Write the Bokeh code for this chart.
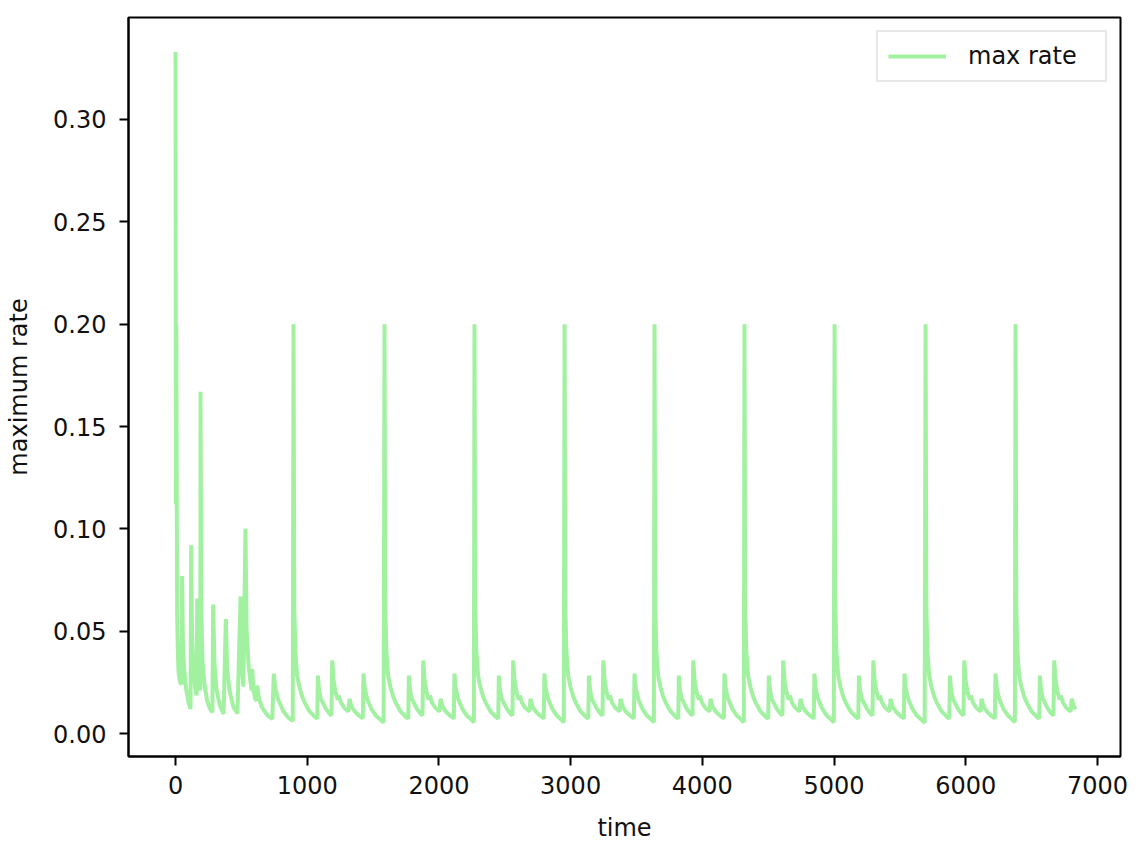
from bokeh.plotting import figure
from bokeh.models import Range1d, FixedTicker, NumeralTickFormatter
from bokeh.embed import file_html
from bokeh.resources import INLINE

# ---- data ----
early_time = [0, 3, 6, 12, 17, 23, 35, 46, 50, 56, 65, 80, 100, 114, 119, 125, 135, 150,
              160, 165, 172, 182, 188, 190, 196, 205, 220, 240, 262, 280, 286, 295, 310,
              335, 365, 382, 392, 410, 440, 470, 494, 502, 515, 531, 540, 555, 570, 578,
              582, 592, 605, 615, 620, 635, 655, 675, 700, 735, 746, 758, 780, 818, 856, 890]
early_rate = [0.333, 0.112, 0.200, 0.060, 0.042, 0.030, 0.025, 0.024, 0.077, 0.045, 0.032,
              0.022, 0.015, 0.012, 0.092, 0.050, 0.032, 0.022, 0.0186, 0.066, 0.035, 0.024,
              0.021, 0.167, 0.060, 0.035, 0.024, 0.016, 0.012, 0.0104, 0.063, 0.035, 0.022,
              0.014, 0.0096, 0.056, 0.032, 0.021, 0.013, 0.0098, 0.067, 0.035, 0.023, 0.100,
              0.050, 0.033, 0.025, 0.021, 0.0316, 0.021, 0.017, 0.016, 0.0234, 0.017, 0.013,
              0.011, 0.0088, 0.0072, 0.0292, 0.022, 0.0165, 0.011, 0.0078, 0.0062]

cycle1_time = [896, 902, 910, 924, 942, 962, 982, 1016, 1051, 1076, 1081, 1090, 1104, 1121,
               1141, 1161, 1184, 1190, 1200, 1216, 1232, 1240, 1256, 1281, 1314, 1321, 1336,
               1361, 1391, 1422, 1427, 1437, 1456, 1486, 1521, 1556, 1580]
cycle1_rate = [0.200, 0.062, 0.040, 0.028, 0.0225, 0.018, 0.015, 0.011, 0.0086, 0.0072,
               0.0283, 0.021, 0.017, 0.0148, 0.0122, 0.0104, 0.0088, 0.0357, 0.026, 0.020,
               0.0165, 0.0185, 0.0152, 0.0126, 0.0108, 0.017, 0.0133, 0.0108, 0.0089, 0.0074,
               0.0293, 0.022, 0.0168, 0.0122, 0.0088, 0.0068, 0.0054]

cycle2_time = [1587, 1593, 1601, 1615, 1633, 1653, 1673, 1707, 1742, 1767, 1772, 1781, 1795,
               1812, 1832, 1852, 1875, 1881, 1891, 1907, 1923, 1931, 1947, 1972, 2005, 2012,
               2027, 2052, 2082, 2113, 2118, 2128, 2147, 2177, 2212, 2247, 2265]
cycle2_rate = [0.200, 0.062, 0.040, 0.028, 0.0225, 0.018, 0.015, 0.011, 0.0086, 0.0072,
               0.0283, 0.021, 0.017, 0.0148, 0.0122, 0.0104, 0.0088, 0.0357, 0.026, 0.020,
               0.0165, 0.0185, 0.0152, 0.0126, 0.0108, 0.017, 0.0133, 0.0108, 0.0089, 0.0074,
               0.0293, 0.022, 0.0168, 0.0122, 0.0088, 0.0068, 0.0055]

cycle3_time = [2270, 2276, 2284, 2298, 2316, 2336, 2356, 2390, 2425, 2450, 2455, 2464, 2478,
               2495, 2515, 2535, 2558, 2564, 2574, 2590, 2606, 2614, 2630, 2655, 2688, 2695,
               2710, 2735, 2765, 2796, 2801, 2811, 2830, 2860, 2895, 2930, 2948]
cycle3_rate = [0.200, 0.062, 0.040, 0.028, 0.0225, 0.018, 0.015, 0.011, 0.0086, 0.0072,
               0.0283, 0.021, 0.017, 0.0148, 0.0122, 0.0104, 0.0088, 0.0357, 0.026, 0.020,
               0.0165, 0.0185, 0.0152, 0.0126, 0.0108, 0.017, 0.0133, 0.0108, 0.0089, 0.0074,
               0.0293, 0.022, 0.0168, 0.0122, 0.0088, 0.0068, 0.0055]

cycle4_time = [2954, 2960, 2968, 2982, 3000, 3020, 3040, 3074, 3109, 3134, 3139, 3148, 3162,
               3179, 3199, 3219, 3242, 3248, 3258, 3274, 3290, 3298, 3314, 3339, 3372, 3379,
               3394, 3419, 3449, 3480, 3485, 3495, 3514, 3544, 3579, 3614, 3632]
cycle4_rate = [0.200, 0.062, 0.040, 0.028, 0.0225, 0.018, 0.015, 0.011, 0.0086, 0.0072,
               0.0283, 0.021, 0.017, 0.0148, 0.0122, 0.0104, 0.0088, 0.0357, 0.026, 0.020,
               0.0165, 0.0185, 0.0152, 0.0126, 0.0108, 0.017, 0.0133, 0.0108, 0.0089, 0.0074,
               0.0293, 0.022, 0.0168, 0.0122, 0.0088, 0.0068, 0.0055]

cycle5_time = [3637, 3643, 3651, 3665, 3683, 3703, 3723, 3757, 3792, 3817, 3822, 3831, 3845,
               3862, 3882, 3902, 3925, 3931, 3941, 3957, 3973, 3981, 3997, 4022, 4055, 4062,
               4077, 4102, 4132, 4163, 4168, 4178, 4197, 4227, 4262, 4297, 4315]
cycle5_rate = [0.200, 0.062, 0.040, 0.028, 0.0225, 0.018, 0.015, 0.011, 0.0086, 0.0072,
               0.0283, 0.021, 0.017, 0.0148, 0.0122, 0.0104, 0.0088, 0.0357, 0.026, 0.020,
               0.0165, 0.0185, 0.0152, 0.0126, 0.0108, 0.017, 0.0133, 0.0108, 0.0089, 0.0074,
               0.0293, 0.022, 0.0168, 0.0122, 0.0088, 0.0068, 0.0055]

cycle6_time = [4320, 4326, 4334, 4348, 4366, 4386, 4406, 4440, 4475, 4500, 4505, 4514, 4528,
               4545, 4565, 4585, 4608, 4614, 4624, 4640, 4656, 4664, 4680, 4705, 4738, 4745,
               4760, 4785, 4815, 4846, 4851, 4861, 4880, 4910, 4945, 4980, 4998]
cycle6_rate = [0.200, 0.062, 0.040, 0.028, 0.0225, 0.018, 0.015, 0.011, 0.0086, 0.0072,
               0.0283, 0.021, 0.017, 0.0148, 0.0122, 0.0104, 0.0088, 0.0357, 0.026, 0.020,
               0.0165, 0.0185, 0.0152, 0.0126, 0.0108, 0.017, 0.0133, 0.0108, 0.0089, 0.0074,
               0.0293, 0.022, 0.0168, 0.0122, 0.0088, 0.0068, 0.0055]

cycle7_time = [5004, 5010, 5018, 5032, 5050, 5070, 5090, 5124, 5159, 5184, 5189, 5198, 5212,
               5229, 5249, 5269, 5292, 5298, 5308, 5324, 5340, 5348, 5364, 5389, 5422, 5429,
               5444, 5469, 5499, 5530, 5535, 5545, 5564, 5594, 5629, 5664, 5688]
cycle7_rate = [0.200, 0.062, 0.040, 0.028, 0.0225, 0.018, 0.015, 0.011, 0.0086, 0.0072,
               0.0283, 0.021, 0.017, 0.0148, 0.0122, 0.0104, 0.0088, 0.0357, 0.026, 0.020,
               0.0165, 0.0185, 0.0152, 0.0126, 0.0108, 0.017, 0.0133, 0.0108, 0.0089, 0.0074,
               0.0293, 0.022, 0.0168, 0.0122, 0.0088, 0.0068, 0.0053]

cycle8_time = [5695, 5701, 5709, 5723, 5741, 5761, 5781, 5815, 5850, 5875, 5880, 5889, 5903,
               5920, 5940, 5960, 5983, 5989, 5999, 6015, 6031, 6039, 6055, 6080, 6113, 6120,
               6135, 6160, 6190, 6221, 6226, 6236, 6255, 6285, 6320, 6355, 6373]
cycle8_rate = [0.200, 0.062, 0.040, 0.028, 0.0225, 0.018, 0.015, 0.011, 0.0086, 0.0072,
               0.0283, 0.021, 0.017, 0.0148, 0.0122, 0.0104, 0.0088, 0.0357, 0.026, 0.020,
               0.0165, 0.0185, 0.0152, 0.0126, 0.0108, 0.017, 0.0133, 0.0108, 0.0089, 0.0074,
               0.0293, 0.022, 0.0168, 0.0122, 0.0088, 0.0068, 0.0055]

cycle9_time = [6378, 6384, 6392, 6406, 6424, 6444, 6464, 6498, 6533, 6558, 6563, 6572, 6586,
               6603, 6623, 6643, 6666, 6672, 6682, 6698, 6714, 6722, 6738, 6763, 6796, 6805,
               6820, 6835]
cycle9_rate = [0.200, 0.062, 0.040, 0.028, 0.0225, 0.018, 0.015, 0.011, 0.0086, 0.0072,
               0.0283, 0.021, 0.017, 0.0148, 0.0122, 0.0104, 0.0088, 0.0357, 0.026, 0.020,
               0.0165, 0.0185, 0.0152, 0.0126, 0.0108, 0.017, 0.0133, 0.0118]

x_ticks = [0, 1000, 2000, 3000, 4000, 5000, 6000, 7000]
y_ticks = [0.00, 0.05, 0.10, 0.15, 0.20, 0.25, 0.30]

time = (early_time + cycle1_time + cycle2_time + cycle3_time + cycle4_time + cycle5_time
        + cycle6_time + cycle7_time + cycle8_time + cycle9_time)
max_rate = (early_rate + cycle1_rate + cycle2_rate + cycle3_rate + cycle4_rate + cycle5_rate
            + cycle6_rate + cycle7_rate + cycle8_rate + cycle9_rate)

FONT = "DejaVu Sans"
FS = "24px"

p = figure(width=1136, height=848, output_backend="svg", toolbar_location=None,
           x_range=Range1d(-357, 7175), y_range=Range1d(-0.0112, 0.3498),
           min_border_left=128, min_border_right=16, min_border_top=17, min_border_bottom=92)

p.line(time, max_rate, line_color="#90EE90", line_alpha=0.85, line_width=4,
       legend_label="max rate")

p.xgrid.visible = False
p.ygrid.visible = False
p.background_fill_color = "white"
p.border_fill_color = "white"
p.outline_line_color = "black"
p.outline_line_width = 2

for ax in (p.xaxis[0], p.yaxis[0]):
    ax.axis_line_color = "black"
    ax.axis_line_width = 2
    ax.major_tick_line_color = "black"
    ax.major_tick_line_width = 2
    ax.major_tick_out = 9
    ax.major_tick_in = 0
    ax.minor_tick_line_color = None
    ax.major_label_text_font = FONT
    ax.major_label_text_font_size = FS
    ax.major_label_text_color = "#111111"
    ax.axis_label_text_font = FONT
    ax.axis_label_text_font_size = FS
    ax.axis_label_text_font_style = "normal"
    ax.axis_label_text_color = "#111111"

p.xaxis.major_label_standoff = 10
p.yaxis.major_label_standoff = 13
p.xaxis.ticker = FixedTicker(ticks=x_ticks)
p.yaxis.ticker = FixedTicker(ticks=y_ticks)
p.yaxis.formatter = NumeralTickFormatter(format="0.00")
p.xaxis.axis_label = "time"
p.yaxis.axis_label = "maximum rate"
p.xaxis.axis_label_standoff = 17
p.yaxis.axis_label_standoff = 17

lg = p.legend[0]
lg.location = "top_right"
lg.margin = 13
lg.padding = 10
lg.glyph_width = 58
lg.glyph_height = 28
lg.label_height = 28
lg.label_width = 127
lg.label_standoff = 22
lg.label_text_font = FONT
lg.label_text_font_size = FS
lg.label_text_color = "#111111"
lg.border_line_color = "#d0d0d0"
lg.border_line_width = 2
lg.background_fill_color = "white"
lg.background_fill_alpha = 0.8

open("out.html", "w").write(file_html(p, INLINE))
